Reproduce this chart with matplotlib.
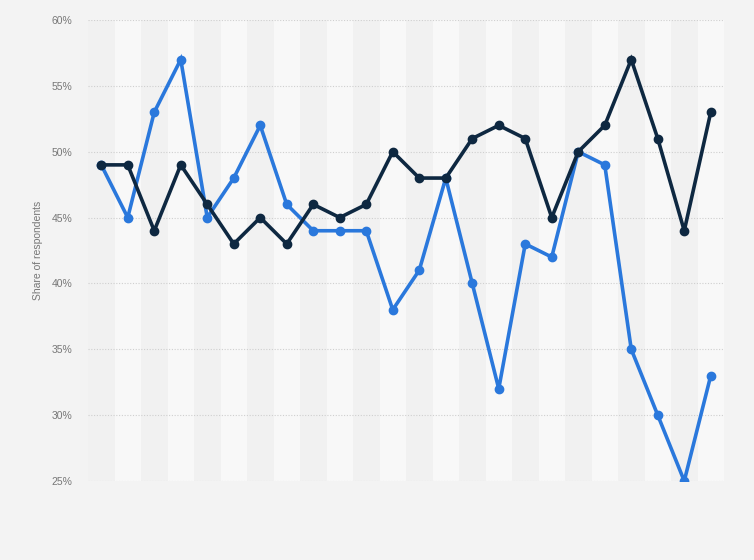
"""
Line chart: share of respondents, two series, banded background.
"""

import matplotlib
matplotlib.use("Agg")
import matplotlib.pyplot as plt
import numpy as np
from matplotlib.ticker import FuncFormatter

# ---------------------------------------------------------------------------
# Data
# ---------------------------------------------------------------------------

periods = list(range(24))
series_blue = [49, 45, 53, 57, 45, 48, 52, 46, 44, 44, 44, 38,
               41, 48, 40, 32, 43, 42, 50, 49, 35, 30, 25, 33]
series_dark = [49, 49, 44, 49, 46, 43, 45, 43, 46, 45, 46, 50,
               48, 48, 51, 52, 51, 45, 50, 52, 57, 51, 44, 53]
y_ticks = [25, 30, 35, 40, 45, 50, 55, 60]

# ---------------------------------------------------------------------------
# Style
# ---------------------------------------------------------------------------

BG = "#f3f3f3"
BAND_DARK = "#f1f1f1"
BAND_LIGHT = "#f8f8f8"
BLUE = "#2a78dc"
DARK = "#0e2841"

plt.rcParams.update({
    "font.family": "Liberation Sans",
})

fig = plt.figure(figsize=(7.54, 5.60), dpi=100, facecolor=BG)
ax = fig.add_axes([88 / 754, 1 - 481 / 560, 636 / 754, 461 / 560])
ax.set_facecolor(BG)

n = len(periods)
for i in range(n):
    ax.axvspan(i - 0.5, i + 0.5, color=BAND_DARK if i % 2 == 0 else BAND_LIGHT,
               lw=0, zorder=0)

for t in y_ticks:
    ax.axhline(t, color="#cfcfcf", lw=0.8, ls=(0, (1, 1.5)), zorder=1)

ax.plot(periods, series_blue, color=BLUE, lw=2.6, marker="o", ms=6,
        solid_joinstyle="miter", zorder=3)
ax.plot(periods, series_dark, color=DARK, lw=2.6, marker="o", ms=6,
        solid_joinstyle="miter", zorder=4)

ax.set_xlim(-0.5, n - 0.5)
ax.set_ylim(25, 60)
ax.set_yticks(y_ticks)
ax.yaxis.set_major_formatter(FuncFormatter(lambda v, _: f"{v:.0f}%"))
ax.set_xticks([])
ax.tick_params(axis="y", length=0, pad=11.5, labelsize=7.5, labelcolor="#777777")
for s in ax.spines.values():
    s.set_visible(False)

ax.set_ylabel("Share of respondents", fontsize=7.5, color="#777777", labelpad=6)

fig.savefig("out.png", dpi=100, facecolor=BG)
plt.close(fig)
print("Saved out.png")
